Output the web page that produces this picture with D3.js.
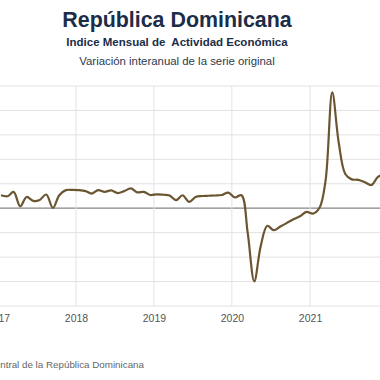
<!DOCTYPE html>
<html><head><meta charset="utf-8">
<script src="https://cdn.jsdelivr.net/npm/d3@7"></script>
<style>
html,body{margin:0;padding:0;background:#fff;overflow:hidden;}
svg{display:block;font-family:"Liberation Sans",Arial,sans-serif;}
</style></head>
<body>
<svg id="chart" width="380" height="380"></svg>
<script>
// Monthly year-on-year variation of IMAE (%), Jan 2017 – Dec 2021
const months = [
  "2017-01","2017-02","2017-03","2017-04","2017-05","2017-06","2017-07","2017-08","2017-09","2017-10","2017-11","2017-12",
  "2018-01","2018-02","2018-03","2018-04","2018-05","2018-06","2018-07","2018-08","2018-09","2018-10","2018-11","2018-12",
  "2019-01","2019-02","2019-03","2019-04","2019-05","2019-06","2019-07","2019-08","2019-09","2019-10","2019-11","2019-12",
  "2020-01","2020-02","2020-03","2020-04","2020-05","2020-06","2020-07","2020-08","2020-09","2020-10","2020-11","2020-12",
  "2021-01","2021-02","2021-03","2021-04","2021-05","2021-06","2021-07","2021-08","2021-09","2021-10","2021-11","2021-12"
];
const values = [
  5.3, 4.9, 6.7, 0.8, 4.6, 3.0, 3.4, 5.6, 0.1, 5.3, 7.4, 7.5,
  7.4, 7.0, 6.0, 7.4, 6.7, 7.3, 6.2, 7.0, 8.1, 6.5, 6.7, 5.4,
  5.7, 5.5, 5.2, 3.3, 5.3, 2.6, 4.6, 5.0, 5.1, 5.2, 5.4, 6.4,
  4.4, 5.3, -10.0, -29.9, -15.5, -7.2, -9.0, -7.5, -6.0, -4.5, -3.3, -1.5,
  -2.2, 0.3, 11.5, 47.4, 27.0, 14.0, 11.8, 11.6, 10.6, 9.5, 12.8, 14.0
];
const yearTicks = [2017, 2018, 2019, 2020, 2021];
const yTicks = [-40, -30, -20, -10, 0, 10, 20, 30, 40, 50];
const title = "República Dominicana";
const subtitle = "Indice Mensual de  Actividad Económica";
const subtitle2 = "Variación interanual de la serie original";
const source = "Fuente: Banco Central de la República Dominicana";

const svg = d3.select("#chart");
const parse = d3.timeParse("%Y-%m");
const data = months.map((m, i) => {
  const d = parse(m); d.setDate(15);
  return {date: d, value: values[i]};
});

const x = d3.scaleTime()
  .domain([new Date(2017, 0, 1), new Date(2022, 0, 1)])
  .range([-2, 388]);
const y = d3.scaleLinear().domain([-40, 50]).range([306, 86]);

// horizontal grid
svg.append("g").selectAll("line").data(yTicks).join("line")
  .attr("x1", -10).attr("x2", 390)
  .attr("y1", d => y(d)).attr("y2", d => y(d))
  .attr("stroke", d => d === 0 ? "#858585" : "#e2e2e2")
  .attr("stroke-width", d => d === 0 ? 1.2 : 1);

// vertical grid
const yearDates = yearTicks.map(t => new Date(t, 0, 1));
svg.append("g").selectAll("line").data(yearDates).join("line")
  .attr("x1", d => x(d)).attr("x2", d => x(d))
  .attr("y1", y(50)).attr("y2", y(-40))
  .attr("stroke", "#e2e2e2").attr("stroke-width", 1);

// x axis labels
const xAxis = d3.axisBottom(x).tickValues(yearDates)
  .tickFormat(d3.timeFormat("%Y")).tickSize(0).tickPadding(9);
const gx = svg.append("g").attr("transform", `translate(0,${y(-40)})`).call(xAxis);
gx.select(".domain").remove();
gx.selectAll("text").attr("fill", "#555").attr("font-size", 10.5)
  .attr("font-family", "Liberation Sans, Arial, sans-serif");

// line
const line = d3.line().x(d => x(d.date)).y(d => y(d.value)).curve(d3.curveCatmullRom.alpha(0.5));
svg.append("path").datum(data).attr("d", line)
  .attr("fill", "none").attr("stroke", "#6b5631").attr("stroke-width", 2.2)
  .attr("stroke-linejoin", "round");

// titles
svg.append("text").attr("x", 177).attr("y", 27).attr("text-anchor", "middle")
  .attr("font-size", 21.4).attr("font-weight", "bold").attr("fill", "#1b2d48").text(title);
svg.append("text").attr("x", 177).attr("y", 46).attr("text-anchor", "middle")
  .attr("xml:space", "preserve")
  .attr("font-size", 11.5).attr("font-weight", "bold").attr("fill", "#1b2d48").text(subtitle);
svg.append("text").attr("x", 177).attr("y", 65).attr("text-anchor", "middle")
  .attr("font-size", 11.4).attr("fill", "#2c3a4e").text(subtitle2);

// source
svg.append("text").attr("x", 144).attr("y", 368).attr("text-anchor", "end")
  .attr("font-size", 9.8).attr("fill", "#666").text(source);
</script>
</body></html>
